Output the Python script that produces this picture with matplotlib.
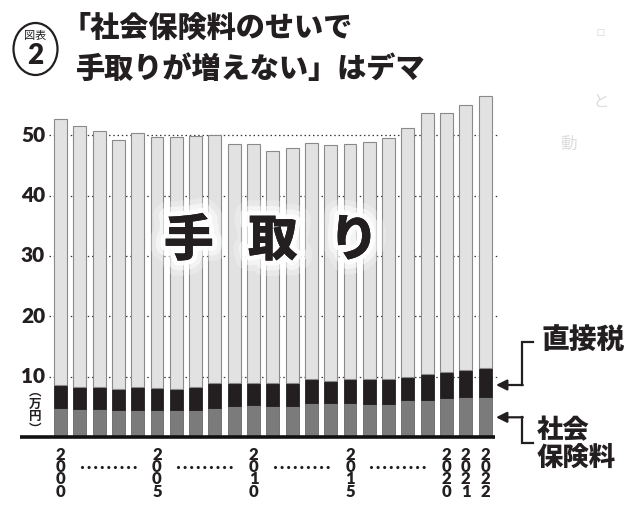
import matplotlib
matplotlib.use("Agg")
import matplotlib.pyplot as plt
from matplotlib.lines import Line2D
from matplotlib.patches import FancyArrowPatch, Ellipse
import matplotlib.patheffects as pe
import numpy as np

# ---------------- data ----------------
years = list(range(2000, 2023))
social_insurance = [4.9, 4.7, 4.6, 4.5, 4.5, 4.5, 4.45, 4.5, 4.8, 5.1, 5.25, 5.2,
                    5.2, 5.6, 5.6, 5.6, 5.55, 5.55, 6.1, 6.1, 6.45, 6.6, 6.6]
direct_tax = [3.7, 3.6, 3.65, 3.5, 3.75, 3.6, 3.5, 3.75, 4.1, 3.8, 3.7, 3.7,
              3.7, 4.1, 3.75, 4.1, 4.0, 4.0, 3.9, 4.4, 4.35, 4.45, 4.85]
take_home = [44.1, 43.2, 42.45, 41.2, 42.05, 41.55, 41.75, 41.65, 41.05, 39.6, 39.55, 38.5,
             39.0, 38.95, 38.95, 38.8, 39.35, 40.0, 41.1, 43.2, 42.9, 43.95, 44.95]
yticks = [10, 20, 30, 40, 50]
labeled_years = ["2000", "2005", "2010", "2015", "2020", "2021", "2022"]
dotted_gaps = [("2000", "2005"), ("2005", "2010"), ("2010", "2015"), ("2015", "2020")]

title_line1 = "「社会保険料のせいで"
title_line2 = "手取りが増えない」はデマ"
badge_small = "図表"
badge_num = "2"
unit_label = "︵\n万\n円\n︶"
label_take = ["手", "取", "り"]
label_tax = "直接税"
label_social = ["社会", "保険料"]

CJK = ['Noto Sans CJK JP', 'DejaVu Sans']
plt.rcParams['font.family'] = CJK

W, H = 640, 507
fig = plt.figure(figsize=(W / 100, H / 100), dpi=100)

def fx(x):
    return x / W

def fy(y):
    return 1 - y / H

# axes geometry (pixels)
ax_left, ax_right = 20, 498
zero_px = 437.1
ppu = 6.04
ytop = 58
ax_bottom_px = H - zero_px
ax_h = ytop * ppu
ax = fig.add_axes([fx(ax_left), ax_bottom_px / H, (ax_right - ax_left) / W, ax_h / H])

step = 19.3
first_c = 60.5
x0 = (ax_left - first_c) / step
x1 = (ax_right - first_c) / step
ax.set_xlim(x0, x1)
ax.set_ylim(0, ytop)
ax.axis('off')

x = np.arange(len(years))
soc = np.array(social_insurance)
tax = np.array(direct_tax)
th = np.array(take_home)

# gridlines
gx0 = (49 - first_c) / step
ax.hlines(yticks, gx0, x1 - 0.05, colors='#3a3a3a', linestyles=(0, (1.2, 2.2)),
          linewidth=0.9, zorder=0)

bw = 0.67
ax.bar(x, soc, width=bw, color='#7b7b7b', edgecolor='#666666', linewidth=0.6, zorder=2)
ax.bar(x, tax, width=bw, bottom=soc, color='#231f20', edgecolor='#231f20', linewidth=0.6, zorder=2)
ax.bar(x, th, width=bw, bottom=soc + tax, color='#e2e2e2', edgecolor='#8a8a8a', linewidth=0.8, zorder=2)

# baseline
ax.plot([x0, (495 - first_c) / step], [0, 0], color='#111111', lw=2.6,
        solid_capstyle='butt', clip_on=False, zorder=3)

# y tick labels
for v in yticks:
    ax.text(-0.80, v, str(v), ha='right', va='center', fontsize=15,
            family=['Lato', 'DejaVu Sans'], fontweight='heavy', color='#231f20')
ax.text(-1.31, 4.4, unit_label, ha='center', va='center', fontsize=9,
        linespacing=0.95, color='#231f20', fontweight='bold')

# x labels (vertical digits)
for yl in labeled_years:
    i = years.index(int(yl))
    ax.text(i, -1.6, "\n".join(yl), ha='center', va='top', fontsize=12,
            family=['Lato', 'DejaVu Sans'], fontweight='heavy', linespacing=0.72,
            color='#231f20', clip_on=False)

# dotted leaders between labels
for a, b in dotted_gaps:
    ia, ib = years.index(int(a)), years.index(int(b))
    ax.plot([ia + 1.1, ib - 1.04], [-4.9, -4.9], color='#231f20', lw=2.3,
            ls=(0, (0.01, 2.05)), dash_capstyle='round', clip_on=False)

# take-home label with glow
glow = [pe.withStroke(linewidth=22, foreground='white', alpha=0.25),
        pe.withStroke(linewidth=14, foreground='white', alpha=0.5),
        pe.withStroke(linewidth=7, foreground='white', alpha=0.9),
        pe.Normal()]
for ch, cx in zip(label_take, [6.65, 11.0, 15.2]):
    ax.text(cx, 32.5, ch, ha='center', va='center', fontsize=36, fontweight='black',
            color='#231f20', path_effects=glow, zorder=5)

# title
fig.text(fx(62), fy(28), title_line1, ha='left', va='center', fontsize=21,
         fontweight='black', color='#231f20')
fig.text(fx(76), fy(69), title_line2, ha='left', va='center', fontsize=21,
         fontweight='black', color='#231f20')

# badge
fig.add_artist(Ellipse((fx(35.5), fy(49)), 44 / W, 52 / H, transform=fig.transFigure,
                       fill=False, edgecolor='#231f20', linewidth=1.6))
fig.text(fx(35.5), fy(36), badge_small, ha='center', va='center', fontsize=8,
         color='#231f20')
fig.text(fx(35.5), fy(56), badge_num, ha='center', va='center', fontsize=20,
         family=['Lato', 'DejaVu Sans'], fontweight='heavy', color='#231f20')

# right annotations
lw_a = 1.6
def poly(pts):
    xs = [fx(p[0]) for p in pts]
    ys = [fy(p[1]) for p in pts]
    fig.add_artist(Line2D(xs, ys, transform=fig.transFigure, color='#231f20', lw=lw_a,
                          solid_joinstyle='miter'))

def arrow(p_from, p_to):
    fig.add_artist(FancyArrowPatch((fx(p_from[0]), fy(p_from[1])), (fx(p_to[0]), fy(p_to[1])),
                                   transform=fig.transFigure, arrowstyle='-|>',
                                   mutation_scale=16, color='#231f20', lw=lw_a,
                                   shrinkA=0, shrinkB=0))

poly([(533, 341.7), (522, 341.7), (522, 385)])
arrow((522.8, 385), (496, 385))
poly([(533, 443), (522, 443), (522, 417.3)])
arrow((522.8, 417.3), (496, 417.3))

fig.text(fx(583), fy(340.5), label_tax, ha='center', va='center', fontsize=20,
         fontweight='black', color='#231f20')
fig.text(fx(537), fy(430), label_social[0], ha='left', va='center', fontsize=19,
         fontweight='black', color='#231f20')
fig.text(fx(537), fy(458), label_social[1], ha='left', va='center', fontsize=19,
         fontweight='black', color='#231f20')

# faint show-through characters from the reverse page
for ch, px, py, fs in [("ロ", 600, 33, 7), ("と", 601, 102, 12), ("動", 569, 144, 12)]:
    fig.text(fx(px), fy(py), ch, ha='center', va='center', fontsize=fs, color='#dddddd')

fig.savefig("out.png", dpi=100)
